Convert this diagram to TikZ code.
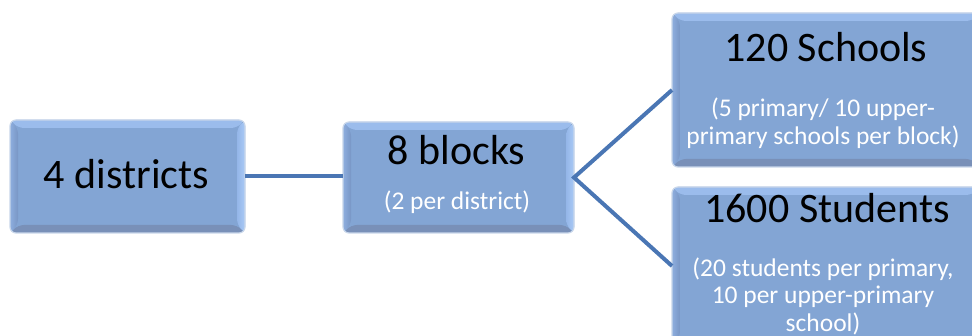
\documentclass[tikz,border=0pt]{standalone}
\usepackage{fontspec}
\setmainfont{Carlito}
\definecolor{boxmain}{RGB}{131,165,212}
\definecolor{bevtop}{RGB}{155,188,236}
\definecolor{bevleftout}{RGB}{142,174,222}
\definecolor{bevleftin}{RGB}{120,150,197}
\definecolor{bevrightin}{RGB}{148,182,232}
\definecolor{bevrightout}{RGB}{170,202,246}
\definecolor{bevbot}{RGB}{121,144,184}
\definecolor{boxedge}{RGB}{200,214,234}
\definecolor{linkblue}{RGB}{74,118,180}
\tikzset{
  bevelbox/.style={rounded corners=6pt, fill=boxmain, draw=boxedge, line width=1.2pt,
    inner sep=0pt, outer sep=0pt,
    path picture={
      \coordinate (NW) at (path picture bounding box.north west);
      \coordinate (NE) at (path picture bounding box.north east);
      \coordinate (SW) at (path picture bounding box.south west);
      \coordinate (SE) at (path picture bounding box.south east);
      \fill[bevtop] (NW) -- (NE) -- ([xshift=-8pt,yshift=-8pt]NE) -- ([xshift=8pt,yshift=-8pt]NW) -- cycle;
      \fill[bevbot] (SW) -- (SE) -- ([xshift=-8pt,yshift=8pt]SE) -- ([xshift=8pt,yshift=8pt]SW) -- cycle;
      \shade[left color=bevleftout, right color=bevleftin] (NW) -- ([xshift=8pt,yshift=-8pt]NW) -- ([xshift=8pt,yshift=8pt]SW) -- (SW) -- cycle;
      \shade[left color=bevrightin, right color=bevrightout] (NE) -- ([xshift=-8pt,yshift=-8pt]NE) -- ([xshift=-8pt,yshift=8pt]SE) -- (SE) -- cycle;
    }},
  maintext/.style={anchor=base, inner sep=0pt, font=\fontsize{42}{50}\selectfont, text=black},
  subtext/.style={anchor=base, inner sep=0pt, font=\fontsize{25.5}{28}\selectfont, text=white},
  link/.style={draw=linkblue, line width=4pt}
}
\begin{document}
\begin{tikzpicture}[x=1pt,y=-1pt]
\useasboundingbox (0,0) rectangle (972,336);
\clip (0,0) rectangle (972,336);
\node[bevelbox, minimum width=235pt, minimum height=113pt] (b1) at (127.5,176.5) {};
\node[bevelbox, minimum width=231pt, minimum height=111pt] (b2) at (458.5,177.5) {};
\node[bevelbox, minimum width=308pt, minimum height=154pt] (b3) at (826,90) {};
\node[bevelbox, minimum width=308pt, minimum height=158pt] (b4) at (826,266) {};

\draw[link] (b1.east) -- (b1.east -| b2.west);
\draw[link, line join=miter] (b3.west) -- (b2.east) -- (b4.west);

\node[maintext] (t1) at (126.5,189) {4 districts};
\node[maintext] (t2) at (456.5,165) {8 blocks};
\node[subtext] (s2) at (457,210) {(2 per district)};
\node[maintext] (t3) at (826,62) {120 Schools};
\node[subtext] (s3a) at (823,117) {(5 primary/ 10 upper-};
\node[subtext] (s3b) at (823,145) {primary schools per block)};
\node[maintext] (t4) at (827,223) {1600 Students};
\node[subtext] (s4a) at (823,276.5) {(20 students per primary,};
\node[subtext] (s4b) at (823,304) {10 per upper-primary};
\node[subtext] (s4c) at (823,331.5) {school)};
\end{tikzpicture}
\end{document}
